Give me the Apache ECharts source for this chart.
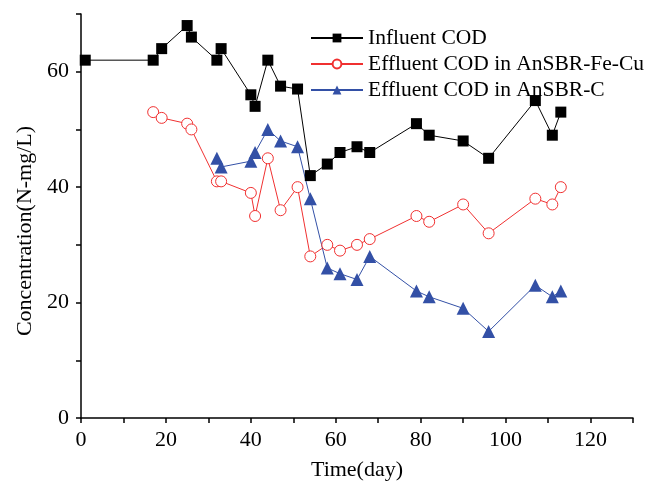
<!DOCTYPE html>
<html>
<head>
<meta charset="utf-8">
<script src="https://cdn.jsdelivr.net/npm/echarts@6/dist/echarts.min.js"></script>
<style>
  html, body { margin: 0; padding: 0; background: #fff; }
  #chart { width: 645px; height: 490px; }
</style>
</head>
<body>
<div id="chart"></div>
<script>
// day / concentration pairs
const influentDays = [1, 17, 19, 25, 26, 32, 33, 40, 41, 44, 47, 51, 54, 58, 61, 65, 68, 79, 82, 90, 96, 107, 111, 113]
const influentCOD = [62, 62, 64, 68, 66, 62, 64, 56, 54, 62, 57.5, 57, 42, 44, 46, 47, 46, 51, 49, 48, 45, 55, 49, 53]

const feCuDays = [17, 19, 25, 26, 32, 33, 40, 41, 44, 47, 51, 54, 58, 61, 65, 68, 79, 82, 90, 96, 107, 111, 113]
const feCuCOD = [53, 52, 51, 50, 41, 41, 39, 35, 45, 36, 40, 28, 30, 29, 30, 31, 35, 34, 37, 32, 38, 37, 40]

const cDays = [32, 33, 40, 41, 44, 47, 51, 54, 58, 61, 65, 68, 79, 82, 90, 96, 107, 111, 113]
const cCOD = [45, 43.5, 44.5, 46, 50, 48, 47, 38, 26, 25, 24, 28, 22, 21, 19, 15, 23, 21, 22]

const pairs = (xs, ys) => xs.map((x, i) => [x, ys[i]])

const font = 'Liberation Serif'

const chart = echarts.init(document.getElementById('chart'))
chart.setOption({
  animation: false,
  grid: { left: 81, right: 12, top: 14, bottom: 72 },
  legend: {
    orient: 'vertical',
    left: 305,
    top: 22,
    itemWidth: 52,
    itemHeight: 11,
    itemGap: 4,
    textStyle: { fontFamily: font, fontSize: 21.5, color: '#000' },
    data: ['Influent COD', 'Effluent COD in AnSBR-Fe-Cu', 'Effluent COD in AnSBR-C']
  },
  xAxis: {
    type: 'value',
    min: 0,
    max: 130,
    interval: 10,
    name: 'Time(day)',
    nameLocation: 'middle',
    nameGap: 41,
    nameTextStyle: { fontFamily: font, fontSize: 22, color: '#000' },
    splitLine: { show: false },
    axisLine: { lineStyle: { color: '#000', width: 1.5 } },
    axisTick: { inside: false, length: 5, lineStyle: { color: '#000', width: 1.5 } },
    axisLabel: {
      fontFamily: font, fontSize: 22, color: '#000', margin: 11,
      formatter: v => (v % 20 === 0 && v <= 120 ? String(v) : '')
    }
  },
  yAxis: {
    type: 'value',
    min: 0,
    max: 70,
    interval: 10,
    name: 'Concentration(N-mg/L)',
    nameLocation: 'middle',
    nameGap: 44,
    // name sits a bit below the axis middle in the original
    nameTextStyle: { fontFamily: font, fontSize: 22, color: '#000', padding: [0, 30, 0, 0] },
    splitLine: { show: false },
    axisLine: { show: true, lineStyle: { color: '#000', width: 1.5 } },
    axisTick: { show: true, inside: false, length: 5, lineStyle: { color: '#000', width: 1.5 } },
    axisLabel: {
      fontFamily: font, fontSize: 22, color: '#000', margin: 12,
      formatter: v => (v % 20 === 0 ? String(v) : '')
    }
  },
  series: [
    {
      name: 'Influent COD',
      type: 'line',
      data: pairs(influentDays, influentCOD),
      symbol: 'rect',
      symbolSize: 11,
      itemStyle: { color: '#000' },
      lineStyle: { color: '#000', width: 1 }
    },
    {
      name: 'Effluent COD in AnSBR-Fe-Cu',
      type: 'line',
      data: pairs(feCuDays, feCuCOD),
      symbol: 'circle',
      symbolSize: 11,
      itemStyle: { color: '#fff', borderColor: '#f03030', borderWidth: 1 },
      lineStyle: { color: '#f03030', width: 1 }
    },
    {
      name: 'Effluent COD in AnSBR-C',
      type: 'line',
      data: pairs(cDays, cCOD),
      symbol: 'triangle',
      symbolSize: 13,
      itemStyle: { color: '#3350a6' },
      lineStyle: { color: '#3350a6', width: 1 }
    }
  ]
})
</script>
</body>
</html>
